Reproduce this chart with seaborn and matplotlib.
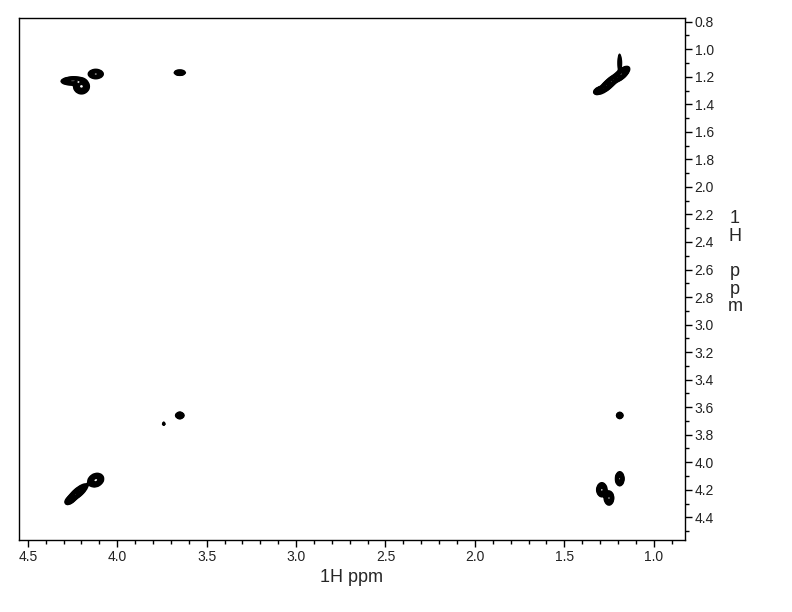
import numpy as np
import matplotlib
matplotlib.use("Agg")
import matplotlib.pyplot as plt
import seaborn as sns
from matplotlib.ticker import MultipleLocator

# Peak list (ppm): F2 (x), F1 (y), widths, tilt, height
peak_x = [1.18, 1.25, 1.31, 3.65, 4.12, 4.22, 4.26,
          4.25, 4.20, 4.12, 3.65,
          1.19, 1.19, 1.29, 1.25, 3.74, 1.19]
peak_y = [1.18, 1.25, 1.30, 3.66, 4.13, 4.22, 4.27,
          1.23, 1.27, 1.18, 1.17,
          3.66, 4.12, 4.20, 4.26, 3.72, 1.10]
peak_sx = [0.018, 0.025, 0.012, 0.010, 0.018, 0.022, 0.014,
           0.028, 0.018, 0.018, 0.014,
           0.008, 0.010, 0.012, 0.011, 0.003, 0.004]
peak_sy = [0.022, 0.030, 0.012, 0.010, 0.020, 0.025, 0.016,
           0.012, 0.022, 0.014, 0.008,
           0.010, 0.022, 0.022, 0.022, 0.004, 0.035]
peak_rho = [0.7, 0.85, 0.5, 0.0, 0.2, 0.8, 0.6,
            0.1, 0.0, 0.0, 0.0,
            0.0, 0.0, 0.0, 0.0, 0.0, 0.0]
peak_amp = [1.0, 0.9, 0.4, 0.5, 0.8, 0.9, 0.5,
            0.6, 0.8, 0.6, 0.45,
            0.4, 0.6, 0.6, 0.6, 0.25, 0.25]

x_ticks = [4.5, 4.0, 3.5, 3.0, 2.5, 2.0, 1.5, 1.0]
y_ticks = [0.8, 1.0, 1.2, 1.4, 1.6, 1.8, 2.0, 2.2, 2.4, 2.6, 2.8,
           3.0, 3.2, 3.4, 3.6, 3.8, 4.0, 4.2, 4.4]

sns.set_theme(style="white")
plt.rcParams['font.family'] = ['Liberation Sans', 'DejaVu Sans']

# fairly coarse grid, like the digital resolution of the spectrum
x = np.linspace(0.825, 4.551, 520)
y = np.linspace(0.773, 4.565, 420)
X, Y = np.meshgrid(x, y)
Z = np.zeros_like(X)
for px, py, sx, sy, r, a in zip(peak_x, peak_y, peak_sx, peak_sy, peak_rho, peak_amp):
    dx = (X - px) / sx
    dy = (Y - py) / sy
    q = (dx ** 2 - 2 * r * dx * dy + dy ** 2) / (1 - r ** 2)
    Z += a * np.exp(-0.5 * q)

fig = plt.figure(figsize=(7.92, 6.12), dpi=100)
ax = fig.add_axes([0.0236, 0.1176, 0.8413, 0.853])

levels = [0.05, 0.08, 0.12, 0.17, 0.24, 0.33, 0.45, 0.6, 0.8]
ax.contour(X, Y, Z, levels=levels, colors="black", linewidths=1.4)

ax.set_xlim(4.551, 0.825)
ax.set_ylim(4.565, 0.773)

ax.set_xticks(x_ticks)
ax.set_xticklabels([f"{v:.1f}" for v in x_ticks])
ax.xaxis.set_minor_locator(MultipleLocator(0.1))
ax.set_yticks(y_ticks)
ax.set_yticklabels([f"{v:.1f}" for v in y_ticks])
ax.yaxis.set_minor_locator(MultipleLocator(0.1))
ax.yaxis.tick_right()

ax.tick_params(axis="both", which="major", direction="out", length=5, width=1,
               color="black", labelsize=10, labelcolor="#222222", pad=2)
ax.tick_params(axis="both", which="minor", direction="out", length=3, width=1,
               color="black")
ax.tick_params(axis="x", which="both", bottom=True, top=False)
ax.tick_params(axis="y", which="both", right=True, left=False)

for s in ax.spines.values():
    s.set_color("black")
    s.set_linewidth(1)

ax.set_xlabel("1H ppm", fontsize=13, labelpad=4)
fig.text(0.928, 0.657, "1\nH\n\np\np\nm", fontsize=13, ha="center", va="top",
         linespacing=1.05)

fig.savefig("out.png", dpi=100)
